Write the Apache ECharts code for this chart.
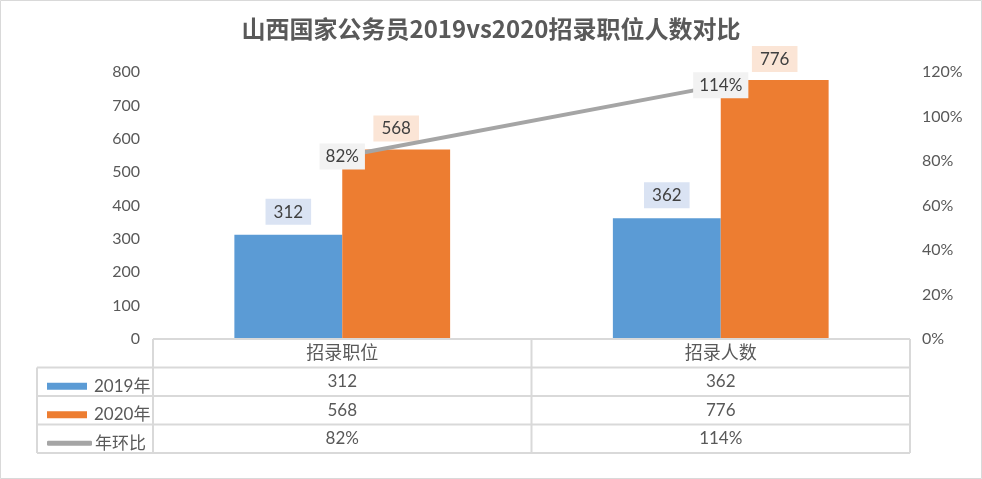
<!DOCTYPE html>
<html><head><meta charset="utf-8">
<script src="https://cdn.jsdelivr.net/npm/echarts@6/dist/echarts.min.js"></script>
<style>html,body{margin:0;padding:0;background:#fff}#c{width:982px;height:479px}</style>
</head><body><div id="c"></div>
<script>
var titleText = '山西国家公务员2019vs2020招录职位人数对比';
var categories = ['招录职位', '招录人数'];
var seriesNames = ['2019年', '2020年', '年环比'];
var values2019 = [312, 362];
var values2020 = [568, 776];
var ratio = [0.82, 1.14];
var leftTicks = {min: 0, max: 800, interval: 100};
var rightTicks = {min: 0, max: 1.2, interval: 0.2};

var FONT = "Lato, 'Noto Sans CJK SC', sans-serif";
var TXT = '#595959';
var GRID = {left: 153, right: 72, top: 72, bottom: 140};
var W = 982, H = 479;
var gL = GRID.left, gR = W - GRID.right, gB = H - GRID.bottom;
var ROW = 28.5;
var LEG_L = 37;
var BORDER = '#D9D9D9';

function pct(v){ return Math.round(v * 100) + '%'; }

var chart = echarts.init(document.getElementById('c'), null, {renderer: 'canvas'});

var graphics = [];
graphics.push({type: 'rect', shape: {x: 0.5, y: 0.5, width: W - 1, height: H - 1}, style: {fill: 'none', stroke: BORDER, lineWidth: 1}, silent: true});
function hline(x1, x2, y){ graphics.push({type: 'line', shape: {x1: x1, y1: y, x2: x2, y2: y}, style: {stroke: BORDER, lineWidth: 2}, silent: true, z: 10}); }
function vline(x, y1, y2){ graphics.push({type: 'line', shape: {x1: x, y1: y1, x2: x, y2: y2}, style: {stroke: BORDER, lineWidth: 2}, silent: true, z: 10}); }
var nRows = 1 + seriesNames.length;
hline(gL, gR, gB);
for (var r = 1; r <= nRows; r++) hline(LEG_L, gR, gB + ROW * r);
var bottomY = gB + ROW * nRows;
var catW = (gR - gL) / categories.length;
for (var i = 0; i <= categories.length; i++) vline(gL + catW * i, gB, bottomY);
vline(LEG_L, gB + ROW, bottomY);

var legends = seriesNames.map(function(name, k){
  return {
    data: [{name: name, icon: k === 2 ? 'roundRect' : 'rect'}],
    left: 42, top: gB + ROW * (k + 1) + ROW / 2 - 9,
    itemWidth: k === 2 ? 45 : 40, itemHeight: k === 2 ? 5 : 7,
    itemGap: 4,
    textStyle: {color: TXT, fontSize: 17, fontFamily: FONT, padding: [0, 0, 0, k === 2 ? -2 : 2]},
    selectedMode: false
  };
});

var option = {
  animation: false,
  backgroundColor: '#fff',
  title: {text: titleText, left: 'center', top: 12,
    textStyle: {color: TXT, fontSize: 24, fontWeight: 'bold', fontFamily: "'Noto Sans CJK SC', sans-serif"}},
  legend: legends,
  grid: GRID,
  xAxis: {
    type: 'category', data: categories,
    axisLine: {show: false}, axisTick: {show: false},
    axisLabel: {
      margin: 0, interval: 0, color: TXT, fontSize: 17, fontFamily: FONT, lineHeight: ROW,
      formatter: function(v, idx){
        return ['{c|' + v + '}', values2019[idx], values2020[idx], pct(ratio[idx])].join('\n');
      },
      rich: {c: {fontSize: 18, lineHeight: ROW, color: TXT, fontFamily: FONT}}
    }
  },
  yAxis: [
    {type: 'value', min: leftTicks.min, max: leftTicks.max, interval: leftTicks.interval,
      splitLine: {show: false}, axisLine: {show: false}, axisTick: {show: false},
      axisLabel: {color: TXT, fontSize: 16, fontFamily: FONT, margin: 13}},
    {type: 'value', min: rightTicks.min, max: rightTicks.max, interval: rightTicks.interval,
      splitLine: {show: false}, axisLine: {show: false}, axisTick: {show: false},
      axisLabel: {color: TXT, fontSize: 16, fontFamily: FONT, margin: 12, formatter: pct}}
  ],
  graphic: graphics,
  series: [
    {name: seriesNames[0], type: 'bar', data: values2019, barGap: '0%', barCategoryGap: '43%',
      itemStyle: {color: '#5B9BD5'},
      label: {show: true, position: 'top', distance: 10, color: '#404040', fontSize: 17, fontFamily: FONT,
        backgroundColor: '#DAE3F3', padding: [5, 8, 4, 8]}},
    {name: seriesNames[1], type: 'bar', data: values2020,
      itemStyle: {color: '#ED7D31'},
      label: {show: true, position: 'top', distance: 8, color: '#404040', fontSize: 17, fontFamily: FONT,
        backgroundColor: '#FBE5D6', padding: [5, 8, 4, 8]}},
    {name: seriesNames[2], type: 'line', yAxisIndex: 1, data: ratio, symbol: 'circle', symbolSize: 2, showSymbol: true,
      lineStyle: {color: '#A5A5A5', width: 4}, itemStyle: {color: '#A5A5A5'},
      label: {show: true, position: 'inside', color: '#404040', fontSize: 17, fontFamily: FONT,
        backgroundColor: '#F2F2F2', padding: [5, 6, 4, 6], formatter: function(p){ return pct(p.value); }},
      z: 5}
  ]
};
chart.setOption(option);
</script></body></html>
